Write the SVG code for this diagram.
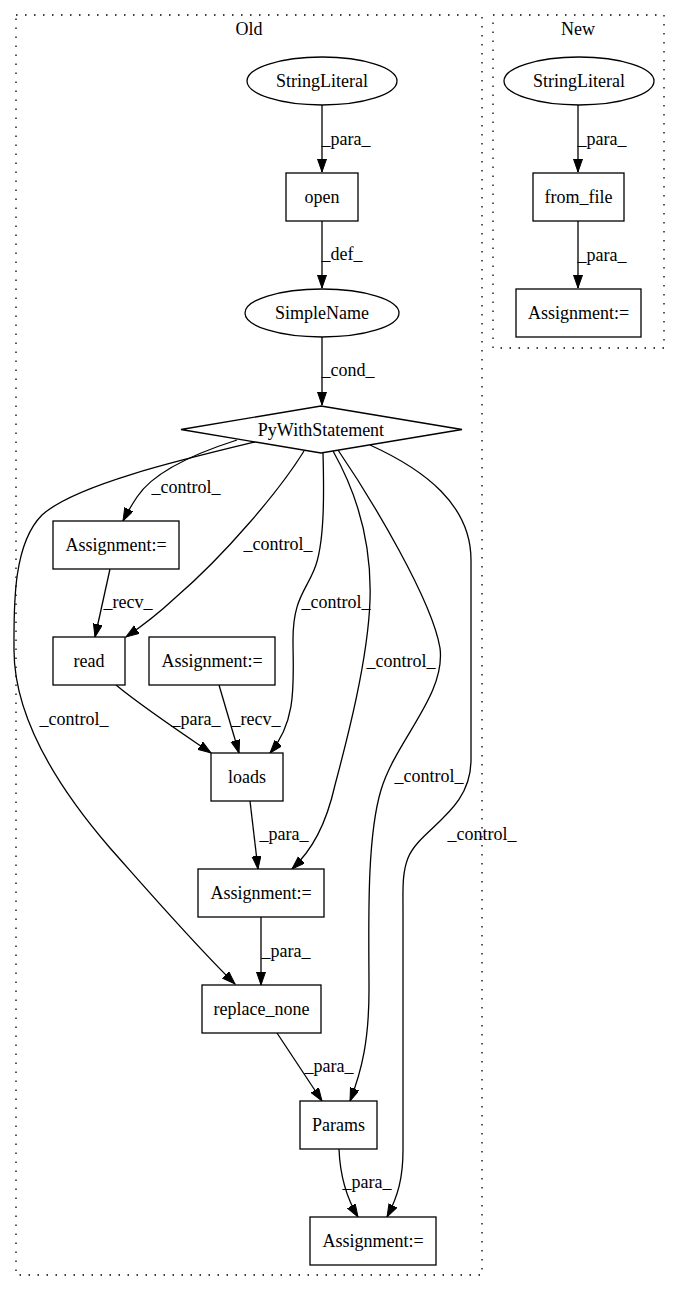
<svg xmlns="http://www.w3.org/2000/svg" width="680" height="1292" viewBox="0 0 680 1292">
<style>
text{font-family:"Liberation Serif","Times New Roman",serif;font-size:18px;fill:#000;text-anchor:middle}
.n{fill:#fff;stroke:#000;stroke-width:1.3}
.e{fill:none;stroke:#000;stroke-width:1.3}
.c{fill:none;stroke:#000;stroke-width:1.3;stroke-dasharray:1.5,7.5}
</style>
<defs>
<marker id="ah" markerUnits="userSpaceOnUse" markerWidth="14" markerHeight="10" refX="13" refY="4.5" orient="auto">
<path d="M0,0 L13,4.5 L0,9 z" fill="#000" stroke="#000" stroke-width="1"/>
</marker>
</defs>
<rect x="0" y="0" width="680" height="1292" fill="#fff"/>
<g id="cluster_old">
<rect class="c" x="16" y="15" width="466" height="1260"/>
<text x="249" y="35">Old</text>
</g>
<g id="cluster_new">
<rect class="c" x="493" y="15" width="171" height="333"/>
<text x="578" y="35">New</text>
</g>
<g id="edges">
<path class="e" d="M322,105 L322,172" marker-end="url(#ah)"/>
<text x="346" y="145">_para_</text>
<path class="e" d="M322,221 L322,288" marker-end="url(#ah)"/>
<text x="342" y="260">_def_</text>
<path class="e" d="M322,337 L322,405" marker-end="url(#ah)"/>
<text x="348" y="376">_cond_</text>
<path class="e" d="M578,105 L578,172" marker-end="url(#ah)"/>
<text x="602" y="145">_para_</text>
<path class="e" d="M578,221 L578,288" marker-end="url(#ah)"/>
<text x="602" y="261">_para_</text>
<path class="e" d="M237,440 C190,455 152,474 137,497 C131,506 127,513 123,521" marker-end="url(#ah)"/>
<text x="186" y="493">_control_</text>
<path class="e" d="M304,451 C280,490 225,555 175,598 C160,612 145,624 126,637" marker-end="url(#ah)"/>
<text x="278" y="550">_control_</text>
<path class="e" d="M323,453 C324,490 325,545 314,570 C305,592 293,600 293,640 C293,680 298,720 270,753" marker-end="url(#ah)"/>
<text x="336" y="608">_control_</text>
<path class="e" d="M333,451 C355,490 372,540 370,600 C368,660 347,740 335,785 C326,825 312,850 292,869" marker-end="url(#ah)"/>
<text x="401" y="667">_control_</text>
<path class="e" d="M338,450 C372,500 432,600 440,648 C446,695 396,740 381,790 C366,840 369,930 369,990 C369,1040 362,1070 350,1101" marker-end="url(#ah)"/>
<text x="429" y="782">_control_</text>
<path class="e" d="M370,445 C425,470 471,505 471,560 L471,760 C471,812 420,828 408,858 C402,873 403,890 403,910 L403,1150 C403,1178 398,1196 387,1217" marker-end="url(#ah)"/>
<text x="482" y="840">_control_</text>
<path class="e" d="M255,442 C180,460 75,485 42,515 C12,545 14,610 14,650 C14,720 60,790 110,848 C150,893 195,945 235,984" marker-end="url(#ah)"/>
<text x="74" y="725">_control_</text>
<path class="e" d="M110,569 L95,637" marker-end="url(#ah)"/>
<text x="128" y="608">_recv_</text>
<path class="e" d="M116,685 C140,705 180,732 211,753" marker-end="url(#ah)"/>
<text x="196" y="725">_para_</text>
<path class="e" d="M219,685 L239,753" marker-end="url(#ah)"/>
<text x="256" y="725">_recv_</text>
<path class="e" d="M250,801 L258,869" marker-end="url(#ah)"/>
<text x="284" y="840">_para_</text>
<path class="e" d="M261,917 L261,985" marker-end="url(#ah)"/>
<text x="286" y="957">_para_</text>
<path class="e" d="M277,1033 L322,1101" marker-end="url(#ah)"/>
<text x="329" y="1072">_para_</text>
<path class="e" d="M339,1149 C340,1175 346,1197 358,1217" marker-end="url(#ah)"/>
<text x="367" y="1188">_para_</text>
</g>
<g id="n_old_stringliteral"><ellipse class="n" cx="322" cy="81" rx="75" ry="24"/><text x="322" y="87">StringLiteral</text></g>
<g id="n_open"><rect class="n" x="286" y="173" width="72" height="48"/><text x="322" y="203">open</text></g>
<g id="n_simplename"><ellipse class="n" cx="322" cy="313" rx="77" ry="24"/><text x="322" y="319">SimpleName</text></g>
<g id="n_pywith"><polygon class="n" points="321,406 462,429.5 321,453 181,429.5"/><text x="321" y="436">PyWithStatement</text></g>
<g id="n_assign1"><rect class="n" x="53" y="521" width="126" height="48"/><text x="116" y="551">Assignment:=</text></g>
<g id="n_read"><rect class="n" x="53" y="637" width="72" height="48"/><text x="89" y="667">read</text></g>
<g id="n_assign2"><rect class="n" x="149" y="637" width="126" height="48"/><text x="212" y="667">Assignment:=</text></g>
<g id="n_loads"><rect class="n" x="211" y="753" width="72" height="48"/><text x="247" y="783">loads</text></g>
<g id="n_assign3"><rect class="n" x="198" y="869" width="126" height="48"/><text x="261" y="899">Assignment:=</text></g>
<g id="n_replace_none"><rect class="n" x="202" y="985" width="119" height="48"/><text x="261.5" y="1015">replace_none</text></g>
<g id="n_params"><rect class="n" x="300" y="1101" width="77" height="48"/><text x="338.5" y="1131">Params</text></g>
<g id="n_assign4"><rect class="n" x="310" y="1217" width="126" height="48"/><text x="373" y="1247">Assignment:=</text></g>
<g id="n_new_stringliteral"><ellipse class="n" cx="579" cy="81" rx="75" ry="24"/><text x="579" y="87">StringLiteral</text></g>
<g id="n_from_file"><rect class="n" x="533" y="173" width="91" height="48"/><text x="578.5" y="203">from_file</text></g>
<g id="n_new_assign"><rect class="n" x="516" y="289" width="125" height="48"/><text x="578.5" y="319">Assignment:=</text></g>
</svg>
